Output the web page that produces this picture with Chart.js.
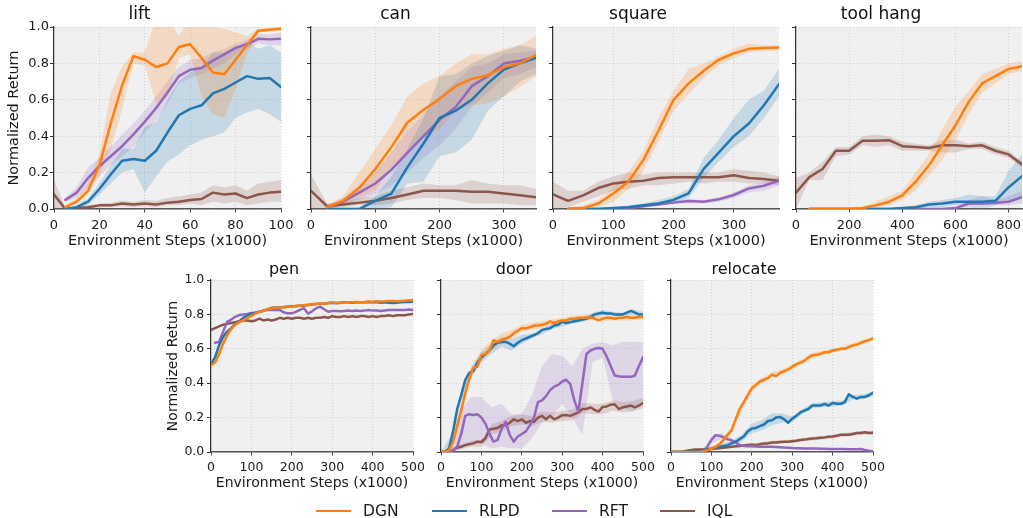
<!DOCTYPE html>
<html>
<head>
<meta charset="utf-8">
<script src="https://cdn.jsdelivr.net/npm/chart.js@4.4.1/dist/chart.umd.min.js"></script>
<style>
  body { margin: 0; background: #fff; overflow: hidden; }
  #fig { position: relative; width: 1023px; height: 518px; overflow: hidden; font-family: 'DejaVu Sans', sans-serif; }
  #fig canvas { position: absolute; }
  .key { position: absolute; width: 35px; height: 2.6px; top: 509.5px; }
  .lab { position: absolute; top: 501px; font-size: 15.5px; line-height: 20px; color: #1a1a1a; }
</style>
</head>
<body>
<div id="fig">
  <canvas id="lift"></canvas>
  <canvas id="can"></canvas>
  <canvas id="square"></canvas>
  <canvas id="tool"></canvas>
  <canvas id="pen"></canvas>
  <canvas id="door"></canvas>
  <canvas id="relocate"></canvas>

  <div class="key" style="left:316px;background:#ff7f0e"></div><span class="lab" style="left:363px">DGN</span>
  <div class="key" style="left:432px;background:#1f77b4"></div><span class="lab" style="left:479px">RLPD</span>
  <div class="key" style="left:552px;background:#9467bd"></div><span class="lab" style="left:599px">RFT</span>
  <div class="key" style="left:660px;background:#8c564b"></div><span class="lab" style="left:707px">IQL</span>
</div>
<script>
// ---- lift ----
const liftSteps = [0,5,10,15,20,25,30,35,40,45,50,55,60,65,70,75,80,85,90,95,100];
const liftDGN    = [null,0.01,0.04,0.10,0.24,0.47,0.68,0.84,0.82,0.78,0.80,0.89,0.905,0.83,0.75,0.74,0.82,0.90,0.98,0.985,0.99];
const liftDGNLo  = [null,0.0,0.03,0.08,0.19,0.33,0.55,0.80,0.79,0.58,0.62,0.83,0.85,0.62,0.52,0.50,0.66,0.85,0.97,0.975,0.98];
const liftDGNHi  = [null,0.02,0.06,0.14,0.30,0.64,0.78,0.86,0.86,1.05,1.05,0.95,1.05,1.05,1.0,0.99,0.97,0.95,0.99,0.995,1.0];
const liftRLPD   = [null,0.0,0.01,0.04,0.11,0.19,0.265,0.275,0.265,0.32,0.42,0.515,0.55,0.57,0.635,0.66,0.695,0.73,0.715,0.72,0.67];
const liftRLPDLo = [null,0.0,0.0,0.02,0.08,0.14,0.20,0.22,0.09,0.18,0.26,0.30,0.35,0.38,0.40,0.42,0.50,0.53,0.55,0.52,0.48];
const liftRLPDHi = [null,0.0,0.02,0.06,0.14,0.24,0.33,0.33,0.45,0.48,0.60,0.70,0.75,0.78,0.86,0.86,0.88,0.92,0.88,0.90,0.86];
const liftRFT    = [null,0.05,0.09,0.17,0.235,0.29,0.345,0.41,0.48,0.555,0.64,0.73,0.765,0.775,0.815,0.85,0.885,0.905,0.935,0.932,0.935];
const liftRFTLo  = [null,0.04,0.06,0.12,0.18,0.24,0.29,0.34,0.42,0.49,0.58,0.69,0.72,0.74,0.77,0.80,0.85,0.88,0.91,0.90,0.90];
const liftRFTHi  = [null,0.06,0.12,0.23,0.28,0.34,0.41,0.47,0.54,0.62,0.70,0.78,0.82,0.83,0.86,0.88,0.91,0.93,0.96,0.96,0.97];
const liftIQL    = [0.08,0.0,0.005,0.01,0.02,0.02,0.03,0.025,0.03,0.025,0.035,0.04,0.05,0.055,0.09,0.08,0.085,0.06,0.08,0.09,0.095];
const liftIQLLo  = [0.0,0.0,0.0,0.0,0.01,0.01,0.015,0.01,0.015,0.01,0.02,0.02,0.03,0.02,0.04,0.03,0.04,0.02,0.03,0.04,0.04];
const liftIQLHi  = [0.16,0.01,0.015,0.02,0.03,0.035,0.045,0.04,0.05,0.045,0.06,0.07,0.08,0.09,0.13,0.12,0.13,0.10,0.14,0.15,0.16];

// ---- can ----
const canSteps = [0,25,50,75,100,125,150,175,200,225,250,275,300,325,350];
const canDGN    = [null,0.01,0.045,0.115,0.22,0.34,0.475,0.545,0.605,0.675,0.715,0.735,0.78,0.80,0.845];
const canDGNLo  = [null,0.0,0.02,0.06,0.10,0.22,0.32,0.40,0.44,0.54,0.57,0.58,0.62,0.67,0.73];
const canDGNHi  = [null,0.02,0.07,0.20,0.33,0.46,0.62,0.69,0.73,0.80,0.85,0.85,0.88,0.90,0.95];
const canRLPD   = [null,0.0,0.0,0.0,0.045,0.085,0.23,0.36,0.50,0.54,0.60,0.69,0.766,0.80,0.83];
const canRLPDLo = [null,0.0,0.0,0.0,0.0,0.01,0.14,0.15,0.29,0.31,0.38,0.54,0.62,0.70,0.74];
const canRLPDHi = [null,0.0,0.0,0.01,0.07,0.18,0.33,0.50,0.73,0.74,0.80,0.84,0.87,0.90,0.88];
const canRFT    = [null,0.01,0.04,0.09,0.14,0.215,0.31,0.40,0.49,0.56,0.675,0.73,0.80,0.815,0.835];
const canRFTLo  = [null,0.0,0.02,0.05,0.08,0.13,0.20,0.28,0.35,0.44,0.56,0.64,0.72,0.74,0.78];
const canRFTHi  = [null,0.02,0.06,0.13,0.20,0.31,0.43,0.52,0.62,0.70,0.78,0.80,0.85,0.86,0.87];
const canIQL    = [0.10,0.015,0.025,0.035,0.045,0.06,0.08,0.10,0.10,0.10,0.095,0.095,0.085,0.075,0.065];
const canIQLLo  = [0.0,0.0,0.01,0.02,0.02,0.03,0.05,0.06,0.06,0.05,0.03,0.03,0.03,0.02,0.02];
const canIQLHi  = [0.19,0.03,0.04,0.06,0.07,0.10,0.12,0.14,0.13,0.13,0.16,0.14,0.13,0.13,0.11];

// ---- square ----
const squareSteps = [0,25,50,75,100,125,150,175,200,225,250,275,300,325,350,375];
const squareDGN    = [null,0.0,0.005,0.03,0.085,0.15,0.27,0.43,0.60,0.69,0.76,0.82,0.855,0.88,0.885,0.887];
const squareDGNLo  = [null,0.0,0.0,0.01,0.04,0.11,0.21,0.37,0.54,0.63,0.72,0.79,0.83,0.86,0.87,0.87];
const squareDGNHi  = [null,0.01,0.02,0.05,0.12,0.20,0.32,0.50,0.65,0.77,0.80,0.84,0.88,0.91,0.90,0.90];
const squareRLPD   = [null,0.0,0.0,0.0,0.005,0.01,0.02,0.03,0.05,0.086,0.22,0.31,0.40,0.47,0.57,0.686];
const squareRLPDLo = [null,0.0,0.0,0.0,0.0,0.005,0.01,0.02,0.03,0.06,0.17,0.26,0.34,0.40,0.50,0.62];
const squareRLPDHi = [null,0.0,0.0,0.0,0.01,0.02,0.03,0.05,0.07,0.11,0.28,0.38,0.50,0.60,0.65,0.77];
const squareRFT    = [null,0.0,0.0,0.0,0.0,0.005,0.015,0.025,0.035,0.044,0.04,0.053,0.077,0.113,0.128,0.155];
const squareRFTLo  = [null,0.0,0.0,0.0,0.0,0.0,0.01,0.02,0.03,0.03,0.03,0.04,0.06,0.09,0.10,0.13];
const squareRFTHi  = [null,0.0,0.0,0.0,0.005,0.01,0.02,0.03,0.045,0.055,0.05,0.065,0.09,0.13,0.15,0.18];
const squareIQL    = [0.08,0.045,0.075,0.115,0.14,0.15,0.155,0.17,0.175,0.175,0.175,0.175,0.185,0.17,0.165,0.155];
const squareIQLLo  = [0.0,0.01,0.04,0.07,0.10,0.11,0.13,0.13,0.14,0.15,0.14,0.15,0.15,0.14,0.14,0.13];
const squareIQLHi  = [0.15,0.10,0.10,0.15,0.18,0.20,0.19,0.20,0.20,0.20,0.20,0.20,0.22,0.21,0.20,0.18];

// ---- tool hang ----
const toolSteps = [0,50,100,150,200,250,300,350,400,450,500,550,600,650,700,750,800,850];
const toolDGN    = [null,0,0,0,0,0.005,0.02,0.04,0.075,0.15,0.24,0.35,0.46,0.59,0.69,0.73,0.77,0.785];
const toolDGNLo  = [null,0,0,0,0,0,0.01,0.02,0.05,0.10,0.18,0.27,0.38,0.52,0.64,0.69,0.74,0.76];
const toolDGNHi  = [null,0,0,0,0,0.01,0.04,0.07,0.10,0.20,0.30,0.44,0.56,0.65,0.74,0.77,0.80,0.81];
const toolRLPD   = [null,0,0,0,0,0,0,0,0.005,0.01,0.025,0.03,0.04,0.04,0.04,0.045,0.12,0.18];
const toolRLPDLo = [null,0,0,0,0,0,0,0,0,0,0.01,0.01,0.02,0.02,0.02,0.02,0.04,0.06];
const toolRLPDHi = [null,0,0,0,0,0,0,0,0.01,0.02,0.04,0.05,0.06,0.08,0.07,0.07,0.21,0.30];
const toolRFT    = [null,0,0,0,0,0,0,0,0,0,0,0,0.005,0.03,0.03,0.035,0.04,0.065];
const toolRFTLo  = [null,0,0,0,0,0,0,0,0,0,0,0,0,0.01,0.0,0.02,0.02,0.03];
const toolRFTHi  = [null,0,0,0,0,0,0,0,0,0,0,0,0.01,0.05,0.07,0.05,0.07,0.10];
const toolIQL    = [0.09,0.175,0.22,0.32,0.32,0.375,0.375,0.378,0.345,0.34,0.335,0.35,0.35,0.345,0.35,0.32,0.30,0.245];
const toolIQLLo  = [0.0,0.16,0.16,0.29,0.30,0.35,0.34,0.35,0.32,0.32,0.32,0.31,0.31,0.33,0.33,0.30,0.28,0.23];
const toolIQLHi  = [0.17,0.20,0.26,0.34,0.34,0.40,0.41,0.40,0.37,0.36,0.35,0.38,0.38,0.36,0.37,0.34,0.32,0.26];

// ---- adroit tasks (steps every 10k, bands every 25k) ----
const adroitSteps = [0,10,20,30,40,50,60,70,80,90,100,110,120,130,140,150,160,170,180,190,200,210,220,230,240,250,260,270,280,290,300,310,320,330,340,350,360,370,380,390,400,410,420,430,440,450,460,470,480,490,500];
const bandSteps = [0,25,50,75,100,125,150,175,200,225,250,275,300,325,350,375,400,425,450,475,500];

const penDGN  = [0.505,0.52,0.57,0.63,0.68,0.715,0.74,0.755,0.765,0.78,0.79,0.805,0.815,0.82,0.83,0.835,0.84,0.84,0.842,0.845,0.845,0.85,0.85,0.855,0.855,0.86,0.86,0.865,0.86,0.865,0.87,0.865,0.866,0.87,0.87,0.87,0.872,0.87,0.872,0.875,0.873,0.877,0.875,0.876,0.878,0.878,0.876,0.878,0.88,0.882,0.883];
const penRLPD = [0.51,0.55,0.62,0.67,0.70,0.72,0.745,0.76,0.78,0.795,0.805,0.81,0.815,0.822,0.83,0.838,0.84,0.842,0.843,0.845,0.847,0.848,0.85,0.852,0.855,0.858,0.86,0.862,0.862,0.866,0.868,0.866,0.868,0.87,0.87,0.868,0.87,0.871,0.87,0.872,0.87,0.872,0.868,0.87,0.868,0.866,0.868,0.87,0.872,0.872,0.873];
const penRFT  = [null,0.635,0.64,0.70,0.757,0.77,0.786,0.796,0.80,0.803,0.808,0.81,0.815,0.822,0.826,0.826,0.826,0.826,0.812,0.806,0.806,0.815,0.826,0.836,0.805,0.818,0.835,0.845,0.83,0.815,0.82,0.82,0.818,0.82,0.822,0.82,0.822,0.82,0.822,0.825,0.822,0.822,0.82,0.823,0.825,0.826,0.826,0.825,0.826,0.828,0.826];
const penIQL  = [0.71,0.72,0.73,0.74,0.745,0.75,0.755,0.76,0.765,0.765,0.76,0.765,0.775,0.765,0.77,0.765,0.77,0.78,0.775,0.78,0.775,0.78,0.78,0.775,0.78,0.775,0.78,0.78,0.785,0.78,0.79,0.785,0.785,0.79,0.785,0.79,0.785,0.79,0.79,0.785,0.79,0.785,0.79,0.79,0.795,0.79,0.795,0.795,0.795,0.80,0.802];

const doorDGN  = [0,0,0.01,0.06,0.15,0.243,0.34,0.427,0.49,0.495,0.563,0.57,0.59,0.65,0.64,0.65,0.66,0.67,0.69,0.705,0.72,0.72,0.725,0.735,0.735,0.74,0.745,0.76,0.75,0.76,0.765,0.765,0.775,0.775,0.78,0.78,0.78,0.785,0.775,0.765,0.775,0.78,0.78,0.775,0.78,0.78,0.785,0.78,0.78,0.785,0.785];
const doorRLPD = [0,0,0.02,0.12,0.25,0.33,0.42,0.46,0.47,0.52,0.55,0.57,0.59,0.62,0.635,0.64,0.64,0.63,0.615,0.635,0.65,0.66,0.67,0.68,0.69,0.71,0.715,0.72,0.735,0.74,0.757,0.75,0.755,0.76,0.765,0.77,0.775,0.785,0.80,0.805,0.81,0.805,0.805,0.80,0.80,0.80,0.81,0.82,0.81,0.80,0.80];
const doorRFT  = [0,0,0,0.01,0.03,0.105,0.21,0.22,0.215,0.22,0.20,0.165,0.105,0.06,0.07,0.135,0.175,0.10,0.06,0.09,0.105,0.12,0.155,0.20,0.29,0.30,0.325,0.36,0.38,0.39,0.41,0.42,0.395,0.30,0.235,0.40,0.57,0.59,0.60,0.605,0.60,0.555,0.50,0.445,0.44,0.437,0.437,0.437,0.445,0.50,0.55];
const doorIQL  = [0,0,0,0.01,0.025,0.03,0.04,0.045,0.05,0.06,0.058,0.08,0.13,0.135,0.14,0.155,0.155,0.17,0.19,0.18,0.19,0.17,0.18,0.175,0.20,0.21,0.19,0.21,0.19,0.20,0.214,0.215,0.21,0.22,0.23,0.25,0.25,0.26,0.245,0.235,0.262,0.265,0.275,0.278,0.25,0.26,0.265,0.27,0.26,0.27,0.285];
const doorDGNLo  = [0,0.01,0.21,0.44,0.53,0.59,0.63,0.66,0.70,0.71,0.72,0.74,0.75,0.76,0.765,0.765,0.76,0.765,0.765,0.765,0.77];
const doorDGNHi  = [0,0.05,0.27,0.50,0.59,0.65,0.69,0.71,0.74,0.75,0.76,0.77,0.78,0.79,0.795,0.795,0.79,0.79,0.795,0.795,0.80];
const doorRLPDLo = [0,0.04,0.29,0.43,0.52,0.57,0.61,0.59,0.63,0.66,0.685,0.715,0.73,0.745,0.755,0.78,0.795,0.79,0.79,0.80,0.785];
const doorRLPDHi = [0,0.10,0.36,0.49,0.58,0.63,0.67,0.66,0.68,0.69,0.715,0.745,0.76,0.77,0.785,0.81,0.825,0.815,0.81,0.83,0.815];
const doorRFTLo  = [0,0,0.02,0.06,0.05,0.02,0.03,0.02,0.02,0.08,0.17,0.21,0.28,0.20,0.10,0.52,0.55,0.30,0.25,0.24,0.30];
const doorRFTHi  = [0,0.03,0.25,0.32,0.32,0.26,0.28,0.22,0.22,0.33,0.50,0.57,0.56,0.50,0.60,0.63,0.64,0.62,0.64,0.64,0.64];
const doorIQLLo  = [0,0.005,0.015,0.03,0.03,0.10,0.12,0.15,0.16,0.15,0.175,0.17,0.18,0.185,0.225,0.22,0.22,0.24,0.23,0.235,0.255];
const doorIQLHi  = [0,0.025,0.045,0.065,0.07,0.16,0.18,0.21,0.22,0.21,0.235,0.23,0.24,0.245,0.285,0.28,0.28,0.30,0.29,0.295,0.315];

const relocDGN  = [0,0,0,0,0,0,0,0,0.005,0.01,0.02,0.03,0.045,0.07,0.10,0.126,0.19,0.25,0.29,0.33,0.37,0.39,0.41,0.42,0.43,0.45,0.44,0.46,0.47,0.48,0.495,0.51,0.52,0.53,0.55,0.563,0.565,0.57,0.58,0.58,0.59,0.595,0.60,0.60,0.61,0.62,0.625,0.635,0.645,0.65,0.66];
const relocRLPD = [0,0,0,0,0.003,0.005,0.006,0.008,0.01,0.015,0.02,0.025,0.03,0.035,0.04,0.05,0.06,0.075,0.09,0.12,0.136,0.14,0.15,0.16,0.18,0.185,0.20,0.204,0.19,0.17,0.194,0.21,0.23,0.24,0.25,0.27,0.27,0.27,0.28,0.27,0.285,0.28,0.28,0.29,0.336,0.32,0.31,0.32,0.32,0.33,0.344];
const relocRFT  = [0,0,0,0,0,0,0,0,0.005,0.03,0.07,0.098,0.095,0.085,0.075,0.068,0.055,0.04,0.035,0.033,0.033,0.032,0.031,0.03,0.03,0.03,0.029,0.028,0.026,0.025,0.023,0.022,0.022,0.021,0.021,0.02,0.02,0.019,0.019,0.018,0.018,0.018,0.017,0.017,0.016,0.016,0.016,0.017,0.012,0.008,0.006];
const relocIQL  = [0,0,0,0.003,0.008,0.012,0.015,0.015,0.015,0.015,0.017,0.02,0.022,0.025,0.028,0.03,0.033,0.035,0.038,0.04,0.042,0.04,0.045,0.05,0.05,0.055,0.055,0.058,0.06,0.06,0.063,0.066,0.07,0.072,0.075,0.078,0.08,0.083,0.085,0.088,0.09,0.095,0.10,0.10,0.10,0.105,0.11,0.11,0.115,0.11,0.112];
const relocDGNLo  = [0,0,0,0,0.01,0.04,0.11,0.245,0.35,0.40,0.435,0.45,0.48,0.51,0.55,0.562,0.578,0.588,0.607,0.627,0.648];
const relocDGNHi  = [0,0,0,0.005,0.03,0.07,0.15,0.285,0.39,0.43,0.465,0.48,0.51,0.54,0.576,0.588,0.602,0.612,0.633,0.653,0.672];
const relocRLPDLo = [0,0,0,0.003,0.01,0.02,0.035,0.06,0.11,0.125,0.155,0.17,0.175,0.22,0.255,0.26,0.265,0.27,0.305,0.305,0.325];
const relocRLPDHi = [0,0,0.01,0.015,0.03,0.045,0.065,0.10,0.165,0.185,0.225,0.225,0.205,0.25,0.285,0.29,0.295,0.30,0.335,0.335,0.355];
const relocRFTLo  = [0,0,0,0,0.05,0.075,0.055,0.03,0.026,0.024,0.024,0.021,0.018,0.016,0.015,0.014,0.013,0.012,0.011,0.009,0.002];
const relocRFTHi  = [0,0,0,0.005,0.09,0.11,0.08,0.045,0.04,0.036,0.036,0.033,0.028,0.026,0.025,0.024,0.023,0.022,0.021,0.021,0.01];
const relocIQLLo  = [0,0,0.006,0.009,0.011,0.017,0.022,0.029,0.033,0.039,0.045,0.049,0.053,0.061,0.067,0.073,0.079,0.089,0.094,0.10,0.10];
const relocIQLHi  = [0,0.004,0.018,0.021,0.024,0.031,0.038,0.045,0.051,0.057,0.065,0.069,0.073,0.081,0.089,0.095,0.101,0.111,0.116,0.124,0.124];

// ---- styling ----
const names = ['DGN', 'RLPD', 'RFT', 'IQL'];
const colors = {DGN: '#ff7f0e', RLPD: '#1f77b4', RFT: '#9467bd', IQL: '#8c564b'};
const bandColors = {DGN: 'rgba(255,127,14,0.2)', RLPD: 'rgba(31,119,180,0.2)', RFT: 'rgba(148,103,189,0.2)', IQL: 'rgba(140,86,75,0.2)'};

const YW = 56, XH = 46, RP = 18, TH = 28;
const topRow = {plotTop: 27, plotBottom: 209, tick: 13, axisTitle: 14.5, title: 17, titlePad: 5.6,
  yTitlePad: 7.8, xTitlePad: 5.3, xTickPad: 5.5, yTickPad: 1};
const bottomRow = {plotTop: 280, plotBottom: 452, tick: 12.5, axisTitle: 14, title: 16, titlePad: 7.9,
  yTitlePad: 10, xTitlePad: 6.5, xTickPad: 5, yTickPad: 2.7};

Chart.defaults.font.family = "'DejaVu Sans', sans-serif";
Chart.defaults.color = '#1a1a1a';

// grey plot background
const plotBg = {
  id: 'plotBg',
  beforeDraw(chart) {
    const a = chart.chartArea, ctx = chart.ctx;
    ctx.save();
    ctx.fillStyle = '#f0f0f0';
    ctx.fillRect(a.left, a.top, a.right - a.left, a.bottom - a.top);
    ctx.restore();
  }
};

function points(xs, ys) {
  const out = [];
  for (let i = 0; i < xs.length; i++) {
    if (ys[i] !== null) out.push({x: xs[i], y: ys[i]});
  }
  return out;
}

function makePanel(id, title, left, right, row, xMax, xStep, steps, lines, bSteps, bands, showY) {
  const cv = document.getElementById(id);
  const w = right - left + YW + RP;
  const h = row.plotBottom - row.plotTop + TH + XH;
  cv.width = w; cv.height = h;
  cv.style.width = w + 'px'; cv.style.height = h + 'px';
  cv.style.left = (left - YW) + 'px';
  cv.style.top = (row.plotTop - TH) + 'px';

  const datasets = [];
  names.forEach((n, i) => {
    datasets.push({
      data: points(steps, lines[n]),
      borderColor: colors[n], borderWidth: 2.5, pointRadius: 0,
      borderJoinStyle: 'round', borderCapStyle: 'round', fill: false, order: i
    });
  });
  names.forEach((n, i) => {
    if (!bands || !bands[n]) return;
    datasets.push({
      data: points(bSteps, bands[n][0]),
      borderColor: 'rgba(0,0,0,0)', borderWidth: 0, pointRadius: 0, fill: false, order: 10 + i
    });
    datasets.push({
      data: points(bSteps, bands[n][1]),
      borderColor: 'rgba(0,0,0,0)', borderWidth: 0, pointRadius: 0,
      backgroundColor: bandColors[n], fill: '-1', order: 10 + i
    });
  });

  new Chart(cv, {
    type: 'line',
    data: {datasets: datasets},
    plugins: [plotBg],
    options: {
      responsive: false,
      animation: false,
      events: [],
      layout: {padding: {left: 0, right: RP, top: 0, bottom: 0}},
      plugins: {
        legend: {display: false},
        tooltip: {enabled: false},
        title: {
          display: true, text: title, color: '#111',
          font: {size: row.title, weight: 'normal'},
          padding: {top: row.titlePad, bottom: TH - row.titlePad - row.title * 1.2}
        }
      },
      scales: {
        x: {
          type: 'linear', min: 0, max: xMax,
          afterFit: (s) => { s.height = XH; },
          ticks: {stepSize: xStep, includeBounds: false, padding: row.xTickPad, maxRotation: 0, autoSkip: false,
                  font: {size: row.tick}, color: '#1a1a1a'},
          grid: {color: 'rgba(0,0,0,0.13)', tickLength: 3.5, tickColor: '#444', tickWidth: 1},
          border: {color: '#555', width: 1.4, dash: [1, 2]},
          title: {display: true, text: 'Environment Steps (x1000)', color: '#1a1a1a',
                  font: {size: row.axisTitle}, padding: {top: 0, bottom: row.xTitlePad}}
        },
        y: {
          min: 0, max: 1,
          afterFit: (s) => { s.width = YW; },
          ticks: {stepSize: 0.2, padding: row.yTickPad, font: {size: row.tick},
                  color: showY ? '#1a1a1a' : 'rgba(0,0,0,0)', callback: (v) => v.toFixed(1)},
          grid: {color: 'rgba(0,0,0,0.13)', tickLength: 4, tickColor: '#333', tickWidth: 1},
          border: {color: '#333', width: 1.2, dash: [1, 2]},
          title: {display: showY, text: 'Normalized Return', color: '#1a1a1a',
                  font: {size: row.axisTitle}, padding: {top: row.yTitlePad, bottom: 0}}
        }
      }
    }
  });
}

makePanel('lift', 'lift', 54, 281, topRow, 100, 20, liftSteps,
  {DGN: liftDGN, RLPD: liftRLPD, RFT: liftRFT, IQL: liftIQL}, liftSteps,
  {DGN: [liftDGNLo, liftDGNHi], RLPD: [liftRLPDLo, liftRLPDHi], RFT: [liftRFTLo, liftRFTHi], IQL: [liftIQLLo, liftIQLHi]}, true);

makePanel('can', 'can', 311, 536, topRow, 350, 100, canSteps,
  {DGN: canDGN, RLPD: canRLPD, RFT: canRFT, IQL: canIQL}, canSteps,
  {DGN: [canDGNLo, canDGNHi], RLPD: [canRLPDLo, canRLPDHi], RFT: [canRFTLo, canRFTHi], IQL: [canIQLLo, canIQLHi]}, false);

makePanel('square', 'square', 553, 779, topRow, 375, 100, squareSteps,
  {DGN: squareDGN, RLPD: squareRLPD, RFT: squareRFT, IQL: squareIQL}, squareSteps,
  {DGN: [squareDGNLo, squareDGNHi], RLPD: [squareRLPDLo, squareRLPDHi], RFT: [squareRFTLo, squareRFTHi], IQL: [squareIQLLo, squareIQLHi]}, false);

makePanel('tool', 'tool hang', 796, 1022, topRow, 850, 200, toolSteps,
  {DGN: toolDGN, RLPD: toolRLPD, RFT: toolRFT, IQL: toolIQL}, toolSteps,
  {DGN: [toolDGNLo, toolDGNHi], RLPD: [toolRLPDLo, toolRLPDHi], RFT: [toolRFTLo, toolRFTHi], IQL: [toolIQLLo, toolIQLHi]}, false);

makePanel('pen', 'pen', 211, 413, bottomRow, 500, 100, adroitSteps,
  {DGN: penDGN, RLPD: penRLPD, RFT: penRFT, IQL: penIQL}, bandSteps, null, true);

makePanel('door', 'door', 441, 643, bottomRow, 500, 100, adroitSteps,
  {DGN: doorDGN, RLPD: doorRLPD, RFT: doorRFT, IQL: doorIQL}, bandSteps,
  {DGN: [doorDGNLo, doorDGNHi], RLPD: [doorRLPDLo, doorRLPDHi], RFT: [doorRFTLo, doorRFTHi], IQL: [doorIQLLo, doorIQLHi]}, false);

makePanel('relocate', 'relocate', 671, 873, bottomRow, 500, 100, adroitSteps,
  {DGN: relocDGN, RLPD: relocRLPD, RFT: relocRFT, IQL: relocIQL}, bandSteps,
  {DGN: [relocDGNLo, relocDGNHi], RLPD: [relocRLPDLo, relocRLPDHi], RFT: [relocRFTLo, relocRFTHi], IQL: [relocIQLLo, relocIQLHi]}, false);
</script>
</body>
</html>
